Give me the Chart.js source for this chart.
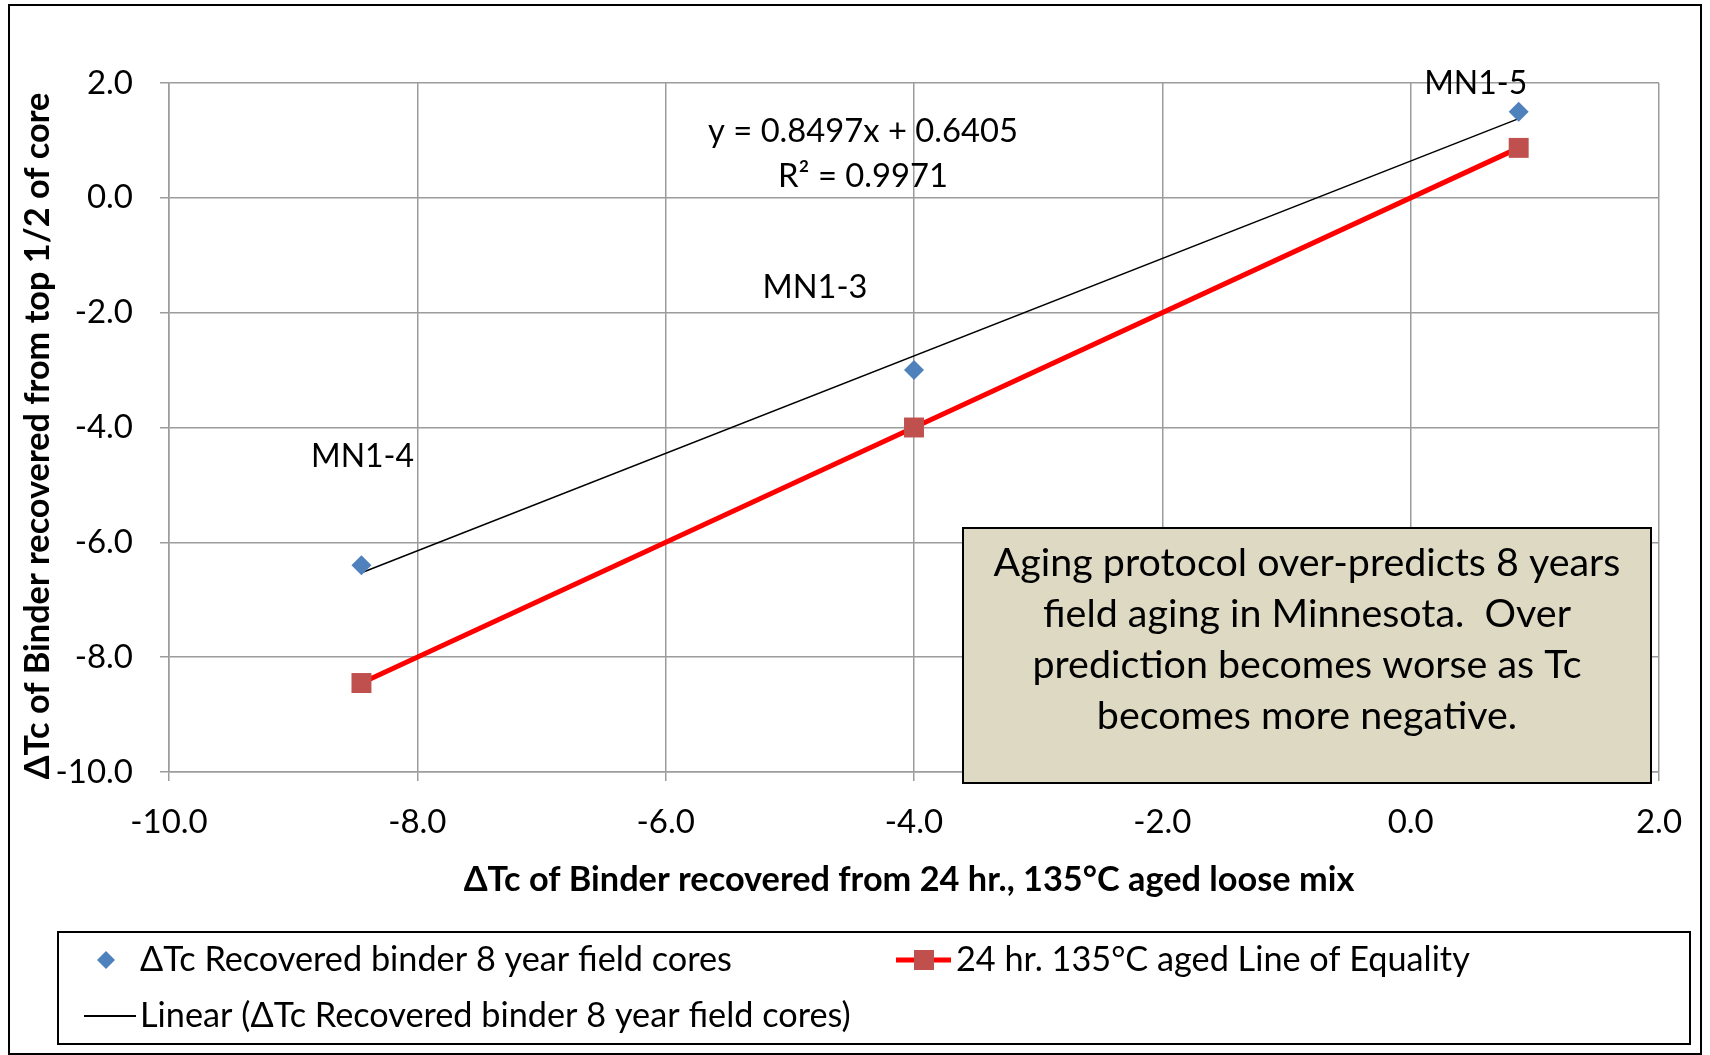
<!DOCTYPE html>
<html><head><meta charset="utf-8">
<script src="https://cdn.jsdelivr.net/npm/chart.js@4.4.1/dist/chart.umd.min.js"></script>
<style>html,body{margin:0;padding:0;background:#fff;}canvas{display:block;}</style>
</head><body>
<canvas id="c" width="1710" height="1055"></canvas>
<script>
// ---- data ----
const xValues = [-8.45, -4.0, 0.87];
const fieldCoreTc = [-6.4, -3.0, 1.5];
const equalityTc = [-8.45, -4.0, 0.87];
const trendX = [-8.45, 0.87];
const trendY = [-6.53, 1.38];
const pointLabels = ['MN1-4', 'MN1-3', 'MN1-5'];
const xTickValues = [-10, -8, -6, -4, -2, 0, 2];
const yTickValues = [-10, -8, -6, -4, -2, 0, 2];
const seriesNames = ['ΔTc Recovered binder 8 year field cores', '24 hr. 135°C aged Line of Equality', 'Linear (ΔTc Recovered binder 8 year field cores)'];
const equationLines = ['y = 0.8497x + 0.6405', 'R² = 0.9971'];
const noteLines = ['Aging protocol over-predicts 8 years', 'field aging in Minnesota.  Over', 'prediction becomes worse as Tc', 'becomes more negative.'];
const xTitle = 'ΔTc of Binder recovered from 24 hr., 135°C aged loose mix';
const yTitle = 'ΔTc of Binder recovered from top 1/2 of core';

const FONT = 'Lato, "Open Sans", sans-serif';
const GRID = '#9C9C9C';

function fitText(ctx, text, targetW, weight, base) {
  ctx.font = weight + ' ' + base + 'px ' + FONT;
  const w = ctx.measureText(text).width;
  const s = base * targetW / w;
  ctx.font = weight + ' ' + s.toFixed(2) + 'px ' + FONT;
  return s;
}

const decor = {
  id: 'decor',
  afterDraw(chart) {
    const ctx = chart.ctx;
    ctx.save();
    // outer chart border
    ctx.strokeStyle = '#000'; ctx.lineWidth = 2;
    ctx.strokeRect(9, 5, 1692, 1049);

    ctx.fillStyle = '#000';
    ctx.textBaseline = 'middle';
    ctx.textAlign = 'center';

    // axis titles
    fitText(ctx, xTitle, 891, 'bold', 30);
    ctx.fillText(xTitle, 909, 880);
    ctx.save();
    ctx.translate(38, 436); ctx.rotate(-Math.PI / 2);
    fitText(ctx, yTitle, 687, 'bold', 30);
    ctx.fillText(yTitle, 0, 0);
    ctx.restore();

    // point labels
    const meta = chart.getDatasetMeta(0);
    const offs = [[1, -109], [-99, -83], [-43, -28]];
    const labelW = [103, 105, 103];
    pointLabels.forEach((t, i) => {
      const p = meta.data[i];
      fitText(ctx, t, labelW[i], 'normal', 30);
      ctx.fillText(t, p.x + offs[i][0], p.y + offs[i][1]);
    });

    // trendline equation
    fitText(ctx, equationLines[0], 310, 'normal', 30);
    ctx.fillText(equationLines[0], 863, 131);
    fitText(ctx, equationLines[1], 170, 'normal', 30);
    ctx.fillText(equationLines[1], 863, 176);

    // note box
    ctx.fillStyle = '#DDD9C3';
    ctx.fillRect(963, 528, 688, 255);
    ctx.strokeStyle = '#000'; ctx.lineWidth = 2;
    ctx.strokeRect(963, 528, 688, 255);
    ctx.fillStyle = '#000';
    fitText(ctx, noteLines[0], 627, 'normal', 36);
    noteLines.forEach((t, i) => ctx.fillText(t, 1307, 563 + i * 51));

    // legend
    ctx.strokeStyle = '#000'; ctx.lineWidth = 2;
    ctx.strokeRect(58, 932, 1632, 112);
    fitText(ctx, seriesNames[0], 592, 'normal', 30);
    ctx.textAlign = 'left';
    const ds = chart.data.datasets;
    const r1 = 960, r2 = 1016;
    // item 1: diamond
    ctx.fillStyle = ds[0].pointBackgroundColor;
    ctx.beginPath();
    ctx.moveTo(106 - 9, r1); ctx.lineTo(106, r1 - 9); ctx.lineTo(106 + 9, r1); ctx.lineTo(106, r1 + 9); ctx.closePath(); ctx.fill();
    ctx.fillStyle = '#000';
    ctx.fillText(seriesNames[0], 140, r1);
    // item 2: red line + square
    ctx.strokeStyle = ds[1].borderColor; ctx.lineWidth = ds[1].borderWidth;
    ctx.beginPath(); ctx.moveTo(896, r1); ctx.lineTo(951, r1); ctx.stroke();
    ctx.fillStyle = ds[1].pointBackgroundColor;
    ctx.fillRect(924 - 10, r1 - 10, 20, 20);
    ctx.fillStyle = '#000';
    ctx.fillText(seriesNames[1], 956, r1);
    // item 3: black line
    ctx.strokeStyle = ds[2].borderColor; ctx.lineWidth = 2;
    ctx.beginPath(); ctx.moveTo(84, r2); ctx.lineTo(136, r2); ctx.stroke();
    ctx.fillText(seriesNames[2], 140, r2);
    ctx.restore();
  }
};

function build() {
  const tickFont = { family: FONT, size: 33 };
  new Chart(document.getElementById('c'), {
    type: 'scatter',
    data: {
      datasets: [
        {
          label: seriesNames[0],
          data: xValues.map((x, i) => ({ x, y: fieldCoreTc[i] })),
          showLine: false,
          pointStyle: 'rectRot', pointRadius: 10, pointHoverRadius: 10,
          pointBackgroundColor: '#4F81BD', pointBorderColor: '#4F81BD', pointBorderWidth: 0,
          order: 0
        },
        {
          label: seriesNames[1],
          data: xValues.map((x, i) => ({ x, y: equalityTc[i] })),
          showLine: true, borderColor: '#FF0000', borderWidth: 5,
          pointStyle: 'rect', pointRadius: 14.1, pointHoverRadius: 14.1,
          pointBackgroundColor: '#C0504D', pointBorderColor: '#C0504D', pointBorderWidth: 0,
          order: 1
        },
        {
          label: seriesNames[2],
          data: trendX.map((x, i) => ({ x, y: trendY[i] })),
          showLine: true, borderColor: '#000000', borderWidth: 1.5,
          pointRadius: 0, pointHoverRadius: 0,
          order: 2
        }
      ]
    },
    options: {
      responsive: false,
      animation: false,
      events: [],
      layout: { padding: { top: 83, right: 51, left: 0, bottom: 0 } },
      plugins: { legend: { display: false }, tooltip: { enabled: false }, title: { display: false } },
      scales: {
        x: {
          type: 'linear', min: -10, max: 2,
          afterFit(s) { s.height = 283; },
          afterBuildTicks(s) { s.ticks = xTickValues.map(v => ({ value: v })); },
          ticks: { font: tickFont, color: '#000', padding: 22, callback: v => Number(v).toFixed(1) },
          grid: { color: GRID, lineWidth: 1.5, tickLength: 9, drawTicks: true },
          border: { color: GRID, width: 1.5 }
        },
        y: {
          type: 'linear', min: -10, max: 2,
          afterFit(s) { s.width = 169; },
          afterBuildTicks(s) { s.ticks = yTickValues.map(v => ({ value: v })); },
          ticks: { font: tickFont, color: '#000', padding: 27, callback: v => Number(v).toFixed(1) },
          grid: { color: GRID, lineWidth: 1.5, tickLength: 9, drawTicks: true },
          border: { color: GRID, width: 1.5 }
        }
      }
    },
    plugins: [decor]
  });
}
Promise.all([
  document.fonts.load('33px Lato'), document.fonts.load('bold 30px Lato')
]).then(build, build);
</script>
</body></html>
